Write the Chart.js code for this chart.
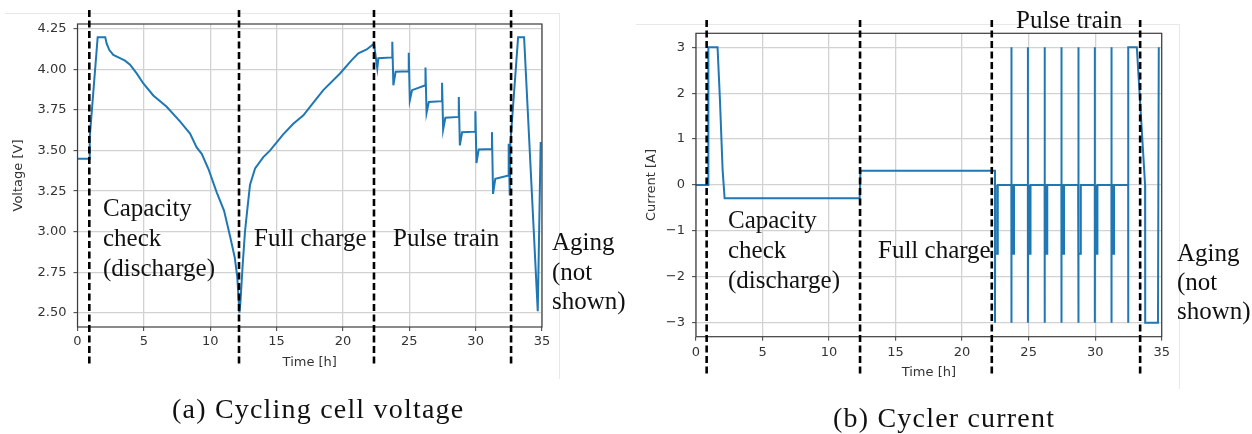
<!DOCTYPE html>
<html>
<head>
<meta charset="utf-8">
<script src="https://cdn.jsdelivr.net/npm/chart.js@4.4.0/dist/chart.umd.min.js"></script>
<style>
  body { margin: 0; background: #fff; width: 1252px; height: 434px; overflow: hidden; position: relative; }
  canvas { position: absolute; top: 0; }
  .lbl { position: absolute; font-family: 'Liberation Serif', 'Times New Roman', serif; font-size: 25px; line-height: 30px; color: #111; white-space: nowrap; }
  .cap { position: absolute; font-family: 'Liberation Serif', 'Times New Roman', serif; font-size: 28px; line-height: 30px; letter-spacing: 1.2px; color: #111; white-space: nowrap; }
  .edge { position: absolute; border-top: 1px solid #e8e8e8; border-right: 1px solid #e8e8e8; }
</style>
</head>
<body>
<div class="edge" style="left:5px; top:13px; width:554px; height:365px;"></div>
<div class="edge" style="left:636px; top:24px; width:543px; height:364px;"></div>

<canvas id="volt-chart" width="626" height="434" style="left:0"></canvas>
<canvas id="cur-chart" width="626" height="434" style="left:626px"></canvas>

<!-- phase labels, chart (a) -->
<div class="lbl" style="left:103px; top:193px;">Capacity<br>check<br>(discharge)</div>
<div class="lbl" style="left:254px; top:223px;">Full charge</div>
<div class="lbl" style="left:393px; top:223px;">Pulse train</div>
<div class="lbl" style="left:552px; top:227px; line-height:29.5px;">Aging<br>(not<br>shown)</div>
<!-- phase labels, chart (b) -->
<div class="lbl" style="left:728px; top:205px;">Capacity<br>check<br>(discharge)</div>
<div class="lbl" style="left:878px; top:235px;">Full charge</div>
<div class="lbl" style="left:1016px; top:5px;">Pulse train</div>
<div class="lbl" style="left:1177px; top:239px; line-height:28.8px;">Aging<br>(not<br>shown)</div>

<div class="cap" style="left:172px; top:394px;">(a) Cycling cell voltage</div>
<div class="cap" style="left:833px; top:403px;">(b) Cycler current</div>

<script>
// shared time axis [h]
const timeTicks = [0, 5, 10, 15, 20, 25, 30, 35];

// (a) cell voltage [V]
const voltTicks = [2.5, 2.75, 3.0, 3.25, 3.5, 3.75, 4.0, 4.25];
const voltTime = [
  0, 0.89, 0.92, 1.52, 2.09, 2.2, 2.4, 2.7, 3.2, 3.58, 3.96, 4.46, 4.96, 5.71, 6.72, 7.72, 8.48, 8.98, 9.36, 9.86, 10.49, 11.04, 11.5, 11.85, 12.04, 12.2,
  12.27, 12.45, 12.62, 12.8, 13.0, 13.38, 14.0, 14.5, 15.5, 16.26, 17.02, 17.52, 18.52, 19.78, 20.66, 21.16, 21.79, 22.34,
  22.59, 22.67, 23.72,
  23.72, 23.8, 23.97, 24.96,
  24.96, 25.04, 25.21, 26.22,
  26.22, 26.3, 26.47, 27.47,
  27.47, 27.55, 27.72, 28.73,
  28.73, 28.81, 28.98, 29.98,
  29.98, 30.06, 30.23, 31.23,
  31.23, 31.31, 31.48, 32.49,
  32.49, 32.57, 32.62, 33.2, 33.65, 34.68, 34.9
];
const voltValue = [
  3.45, 3.45, 3.58, 4.2, 4.2, 4.16, 4.12, 4.09, 4.07, 4.055, 4.03, 3.976, 3.914, 3.84, 3.77, 3.68, 3.605, 3.52, 3.48, 3.388, 3.243, 3.13, 2.97, 2.84, 2.72, 2.5,
  2.56, 2.8, 3.0, 3.14, 3.29, 3.39, 3.46, 3.5, 3.6, 3.666, 3.718, 3.77, 3.873, 3.976, 4.058, 4.1, 4.124, 4.16,
  4.007, 4.07, 4.075,
  4.171, 3.903, 3.986, 3.99,
  4.103, 3.81, 3.873, 3.903,
  4.013, 3.732, 3.8, 3.805,
  3.918, 3.629, 3.703, 3.708,
  3.831, 3.532, 3.614, 3.617,
  3.743, 3.423, 3.507, 3.51,
  3.614, 3.233, 3.326, 3.347,
  3.543, 3.223, 3.55, 4.2, 4.2, 2.51, 3.553
];
const voltPhases = [0.89, 12.17, 22.34, 32.67];

// (b) cycler current [A]
const curTicks = [-3, -2, -1, 0, 1, 2, 3];
const curTime = [
  0, 0.93, 0.93, 1.62, 1.8, 2.0, 2.15, 12.3, 12.36, 22.47,
  22.47, 22.49, 22.52, 22.52, 22.68, 22.68,
  23.7, 23.7, 23.71, 23.72, 23.75, 23.75, 23.9, 23.9,
  24.94, 24.94, 24.95, 24.96, 24.99, 24.99, 25.14, 25.14,
  26.2, 26.2, 26.21, 26.22, 26.25, 26.25, 26.4, 26.4,
  27.46, 27.46, 27.47, 27.48, 27.51, 27.51, 27.66, 27.66,
  28.72, 28.72, 28.73, 28.74, 28.77, 28.77, 28.92, 28.92,
  29.97, 29.97, 29.98, 29.99, 30.02, 30.02, 30.17, 30.17,
  31.22, 31.22, 31.23, 31.24, 31.27, 31.27, 31.42, 31.42,
  32.48, 32.48, 32.49, 33.13, 33.7, 33.75, 33.76, 34.72, 34.78
];
const curValue = [
  0, 0, 3, 3, 1.85, 0.33, -0.29, -0.29, 0.31, 0.31,
  -3, 0, 0, -1.5, -1.5, 0,
  0, 3, -3, 0, 0, -1.5, -1.5, 0,
  0, 3, -3, 0, 0, -1.5, -1.5, 0,
  0, 3, -3, 0, 0, -1.5, -1.5, 0,
  0, 3, -3, 0, 0, -1.5, -1.5, 0,
  0, 3, -3, 0, 0, -1.5, -1.5, 0,
  0, 3, -3, 0, 0, -1.5, -1.5, 0,
  0, 3, -3, 0, 0, -1.5, -1.5, 0,
  0, -3, 3, 3, 0.25, 0, -3, -3, 3
];
const curPhases = [0.8, 12.33, 22.23, 33.38];

const sansFont = { family: "'DejaVu Sans', sans-serif", size: 13 };
const textColor = '#333';
const spineColor = '#3c3c3c';

// box around the axes + black dashed phase boundaries that run past the plot
const framePlugin = {
  id: 'frame',
  afterDatasetsDraw(chart, args, opts) {
    const { ctx, chartArea: a, scales: { x } } = chart;
    ctx.save();
    ctx.strokeStyle = spineColor;
    ctx.lineWidth = 1.2;
    ctx.strokeRect(a.left, a.top, a.right - a.left, a.bottom - a.top);
    ctx.strokeStyle = '#000';
    ctx.lineWidth = 2.6;
    ctx.setLineDash([7, 3.5]);
    opts.times.forEach(t => {
      const px = x.getPixelForValue(t);
      ctx.beginPath();
      ctx.moveTo(px, a.top - opts.above);
      ctx.lineTo(px, a.bottom + opts.below);
      ctx.stroke();
    });
    ctx.restore();
  }
};

const gridStyle = { color: '#d2d2d2', lineWidth: 1.3, drawTicks: true, tickLength: 4, tickColor: spineColor, tickWidth: 1 };

const makeChart = (id, times, values, cfg) => new Chart(document.getElementById(id), {
  type: 'line',
  data: {
    datasets: [{
      data: times.map((t, i) => ({ x: t, y: values[i] })),
      borderColor: '#1f77b4',
      borderWidth: 2,
      pointRadius: 0,
      tension: 0,
      fill: false
    }]
  },
  options: {
    responsive: false,
    animation: false,
    events: [],
    layout: { padding: cfg.padding },
    plugins: {
      legend: { display: false },
      tooltip: { enabled: false },
      frame: { times: cfg.phases, above: cfg.above, below: cfg.below }
    },
    scales: {
      x: {
        type: 'linear', min: 0, max: 35,
        afterBuildTicks: s => { s.ticks = timeTicks.map(v => ({ value: v })); },
        afterFit: s => { s.height = 50; },
        grid: gridStyle,
        border: { display: false },
        ticks: { font: sansFont, color: textColor, padding: cfg.xPad, maxRotation: 0, autoSkip: false, callback: v => String(v) },
        title: { display: true, text: 'Time [h]', font: sansFont, color: textColor, padding: { top: 0, bottom: cfg.xTitlePad } }
      },
      y: {
        type: 'linear', min: cfg.yMin, max: cfg.yMax,
        afterBuildTicks: s => { s.ticks = cfg.yTicks.map(v => ({ value: v })); },
        afterFit: s => { s.width = cfg.yWidth; },
        grid: gridStyle,
        border: { display: false },
        ticks: { font: sansFont, color: textColor, padding: 7, autoSkip: false, callback: cfg.yLabel },
        title: { display: true, text: cfg.yTitle, font: sansFont, color: textColor, padding: { top: cfg.yTitlePad, bottom: 0 } }
      }
    }
  },
  plugins: [framePlugin]
});

makeChart('volt-chart', voltTime, voltValue, {
  padding: { left: 0, top: 24, right: 84, bottom: 57 },
  yMin: 2.412, yMax: 4.281, yTicks: voltTicks, yWidth: 77.5,
  yLabel: v => v.toFixed(2), yTitle: 'Voltage [V]', yTitlePad: 11,
  xPad: 3, xTitlePad: 6.5,
  phases: voltPhases, above: 14, below: 38
});

makeChart('cur-chart', curTime, curValue, {
  padding: { left: 0, top: 33.3, right: 90.3, bottom: 47.3 },
  yMin: -3.305, yMax: 3.305, yTicks: curTicks, yWidth: 70,
  yLabel: v => (v < 0 ? '\u2212' + Math.abs(v) : String(v)), yTitle: 'Current [A]', yTitlePad: 18,
  xPad: 4, xTitlePad: 6,
  phases: curPhases, above: 13.3, below: 40.3
});
</script>
</body>
</html>
